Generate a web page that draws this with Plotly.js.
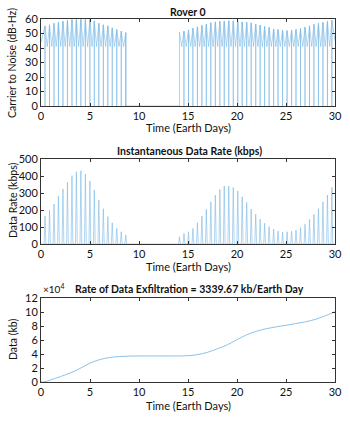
<!DOCTYPE html>
<html>
<head>
<meta charset="utf-8">
<script src="https://cdn.plot.ly/plotly-3.0.1.min.js"></script>
<style>html,body{margin:0;padding:0;background:#fff}#chart{width:350px;height:424px}</style>
</head>
<body>
<div id="chart"></div>
<script>
// ---- Data ----
// Pass (contact) times in Earth days, before and after the outage
const passTimesA = [0.41, 0.87, 1.33, 1.78, 2.24, 2.70, 3.16, 3.61, 4.07, 4.53, 4.99, 5.44, 5.90, 6.36, 6.82, 7.27, 7.73, 8.19, 8.65];
const passTimesB = [14.13, 14.59, 15.05, 15.50, 15.96, 16.42, 16.87, 17.33, 17.79, 18.25, 18.70, 19.16, 19.62, 20.08, 20.53, 20.99, 21.45, 21.91, 22.36, 22.82, 23.28, 23.74, 24.19, 24.65, 25.11, 25.57, 26.02, 26.48, 26.94, 27.40, 27.85, 28.31, 28.77, 29.23, 29.68];
// Peak carrier-to-noise (dB-Hz) per pass
const cnPeakA = [55.2, 56.0, 57.0, 57.8, 58.5, 59.3, 59.7, 59.8, 59.8, 59.8, 59.8, 58.7, 57.0, 56.0, 55.3, 53.9, 52.7, 51.7, 50.6];
const cnPeakB = [50.9, 51.6, 52.5, 53.7, 54.6, 55.6, 56.5, 57.5, 58.0, 58.4, 58.6, 58.8, 58.8, 58.4, 58.0, 57.8, 57.3, 56.5, 55.8, 54.9, 54.2, 53.2, 52.8, 52.3, 52.0, 52.3, 52.8, 53.5, 54.4, 55.3, 56.3, 57.0, 57.7, 58.4, 59.1];
const cnTrough = 41;      // C/N between passes (dB-Hz)
const cnStart = 44;       // C/N at t = 0
const cnEnd = 45;         // C/N at t = 30
// Peak instantaneous data rate (kbps) per pass
const ratePeakA = [165, 198, 235, 282, 323, 363, 402, 425, 431, 412, 370, 318, 259, 208, 161, 125, 92, 72, 53];
const ratePeakB = [43, 63, 72, 92, 125, 165, 204, 249, 288, 321, 341, 341, 333, 312, 278, 245, 206, 176, 147, 122, 102, 88, 76, 71, 72, 75, 82, 96, 116, 145, 175, 208, 249, 288, 333];
// Cumulative data (×10^4 kb)
const cumDays = [0, 0.4, 1, 2, 3, 4, 5, 6, 7, 8, 9, 10, 11, 12, 13, 14, 15, 16, 17, 18, 19, 20, 21, 22, 23, 24, 25, 26, 27, 28, 29, 30];
const cumData = [0, 0.05, 0.3, 0.78, 1.3, 1.95, 2.7, 3.2, 3.5, 3.64, 3.7, 3.72, 3.72, 3.72, 3.72, 3.72, 3.76, 3.92, 4.25, 4.75, 5.3, 6.05, 6.75, 7.25, 7.62, 7.88, 8.1, 8.35, 8.6, 8.95, 9.45, 10.05];
const xTicks = [0, 5, 10, 15, 20, 25, 30];
const titles = ['Rover 0', 'Instantaneous Data Rate (kbps)', 'Rate of Data Exfiltration = 3339.67 kb/Earth Day'];

// ---- Build line traces from the data ----
function cnLine(times, peaks, xs, ys) {
  for (let i = 0; i < times.length; i++) {
    xs.push(times[i], times[i], times[i]);
    ys.push(peaks[i], 0, peaks[i]);
    if (i < times.length - 1) {
      xs.push((times[i] + times[i + 1]) / 2);
      ys.push(cnTrough);
    }
  }
}
const cnX = [0], cnY = [cnStart];
cnLine(passTimesA, cnPeakA, cnX, cnY);
cnX.push(passTimesA[passTimesA.length - 1]); cnY.push(0);
cnX.push(passTimesB[0]); cnY.push(0);
cnLine(passTimesB, cnPeakB, cnX, cnY);
cnX.push(30); cnY.push(cnEnd);

const halfW = 0.09;
const rX = [0], rY = [0];
function rateLine(times, peaks) {
  for (let i = 0; i < times.length; i++) {
    rX.push(times[i] - halfW, times[i], times[i] + halfW);
    rY.push(0, peaks[i], 0);
  }
}
rateLine(passTimesA, ratePeakA);
rateLine(passTimesB, ratePeakB);
rX.push(30); rY.push(0);

const lineColor = '#7ab8e5';
const font = 'Lato, "Open Sans", sans-serif';
const H = 424, W = 350;
const py = v => 1 - v / H;
const px = v => v / W;

const data = [
  {x: cnX, y: cnY, type: 'scatter', mode: 'lines', line: {color: lineColor, width: 0.6}, xaxis: 'x', yaxis: 'y', hoverinfo: 'none'},
  {x: rX, y: rY, type: 'scatter', mode: 'lines', line: {color: lineColor, width: 0.6}, xaxis: 'x2', yaxis: 'y2', hoverinfo: 'none'},
  {x: cumDays, y: cumData, type: 'scatter', mode: 'lines', line: {color: '#8cc3ea', width: 1, shape: 'spline'}, xaxis: 'x3', yaxis: 'y3', hoverinfo: 'none'}
];

const axBase = {
  showline: true, mirror: 'ticks', linecolor: '#333', linewidth: 1,
  ticks: 'inside', ticklen: 3, tickcolor: '#333', showgrid: false, zeroline: false,
  tickfont: {family: font, size: 11, color: '#111'}, fixedrange: true
};
const xd = [px(41), px(335)];
const xa = (anchor) => Object.assign({}, axBase, {domain: xd, range: [0, 30], tickvals: xTicks, anchor: anchor});

function ann(text, x, y, size, extra) {
  return Object.assign({text: text, x: px(x), y: py(y), xref: 'paper', yref: 'paper', xanchor: 'center', yanchor: 'middle',
    showarrow: false, font: {family: font, size: size, color: '#111'}}, extra || {});
}

const layout = {
  width: W, height: H, margin: {l: 0, r: 0, t: 0, b: 0},
  paper_bgcolor: '#fff', plot_bgcolor: '#fff', showlegend: false,
  xaxis: xa('y'), xaxis2: xa('y2'), xaxis3: xa('y3'),
  yaxis: Object.assign({}, axBase, {domain: [py(106), py(19)], range: [0, 60], dtick: 10, anchor: 'x'}),
  yaxis2: Object.assign({}, axBase, {domain: [py(244), py(159)], range: [0, 500], dtick: 100, anchor: 'x2'}),
  yaxis3: Object.assign({}, axBase, {domain: [py(382), py(298)], range: [0, 12], dtick: 2, anchor: 'x3'}),
  annotations: [
    ann('<b>' + titles[0] + '</b>', 188, 12, 10.5),
    ann('<b>' + titles[1] + '</b>', 189, 151, 10.5),
    ann('<b>' + titles[2] + '</b>', 189, 289, 10.5),
    ann('Time (Earth Days)', 188, 127, 11),
    ann('Time (Earth Days)', 188, 266, 11),
    ann('Time (Earth Days)', 188, 405, 11),
    ann('Carrier to Noise (dB-Hz)', 12, 63, 10.5, {textangle: -90}),
    ann('Data Rate (kbps)', 13, 200, 10.5, {textangle: -90}),
    ann('Data (kb)', 13, 340, 10.5, {textangle: -90}),
    ann('\u00d710<sup>4</sup>', 41, 288, 10, {xanchor: 'left'})
  ]
};

Plotly.newPlot('chart', data, layout, {staticPlot: true, displayModeBar: false});
</script>
</body>
</html>
